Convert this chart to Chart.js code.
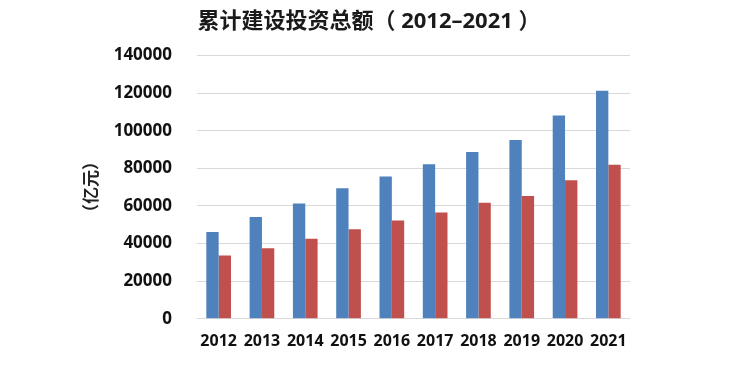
<!DOCTYPE html>
<html>
<head>
<meta charset="utf-8">
<script src="https://cdn.jsdelivr.net/npm/chart.js@4/dist/chart.umd.min.js"></script>
<style>
  body { margin: 0; background: #fff; }
  #wrap { width: 744px; height: 381px; }
</style>
</head>
<body>
<div id="wrap"><canvas id="myChart"></canvas></div>
<script>
var years = ["2012", "2013", "2014", "2015", "2016", "2017", "2018", "2019", "2020", "2021"];
var blueValues = [46100, 54100, 61300, 69400, 75600, 82200, 88700, 95100, 108000, 121200];
var redValues = [33600, 37500, 42600, 47600, 52200, 56500, 61700, 65300, 73700, 81900];
var yTicks = [0, 20000, 40000, 60000, 80000, 100000, 120000, 140000];

var fontFamily = "'Noto Sans', 'Noto Sans CJK SC', sans-serif";

new Chart("myChart", {
    type: "bar",
    data: {
        labels: years,
        datasets: [{
            label: "系列1",
            backgroundColor: "#4F81BD",
            data: blueValues
        }, {
            label: "系列2",
            backgroundColor: "#C0504D",
            data: redValues
        }]
    },
    options: {
        responsive: true,
        maintainAspectRatio: false,
        animation: false,
        categoryPercentage: 0.57,
        barPercentage: 1.0,
        // left padding is wide so the title centres where the reference has it
        layout: { padding: { left: 108, right: 114, top: 0, bottom: 17 } },
        plugins: {
            legend: { display: false },
            tooltip: { enabled: false },
            title: {
                display: true,
                text: "累计建设投资总额（ 2012–2021 ）",
                color: "#1a1a1a",
                font: { family: fontFamily, size: 22, weight: "bold" },
                padding: { top: 9, bottom: 20 }
            }
        },
        scales: {
            x: {
                grid: { display: false, drawTicks: false },
                border: { display: false },
                ticks: {
                    color: "#111",
                    padding: 13,
                    maxRotation: 0,
                    autoSkip: false,
                    font: { family: fontFamily, size: 16, weight: "bold" }
                }
            },
            y: {
                min: 0,
                max: yTicks[yTicks.length - 1],
                afterBuildTicks: function (scale) {
                    scale.ticks = yTicks.map(function (v) { return { value: v }; });
                },
                afterFit: function (scale) { scale.width = 89; },
                grid: { color: "#d9d9d9", lineWidth: 1, drawTicks: false },
                border: { display: false },
                ticks: {
                    color: "#111",
                    padding: 25,
                    font: { family: fontFamily, size: 17, weight: "bold" },
                    callback: function (v) { return String(v); }
                },
                title: {
                    display: true,
                    text: "（亿元）",
                    color: "#222",
                    padding: { top: -26, bottom: 0 },
                    font: { family: fontFamily, size: 17, weight: "bold" }
                }
            }
        }
    }
});
</script>
</body>
</html>
